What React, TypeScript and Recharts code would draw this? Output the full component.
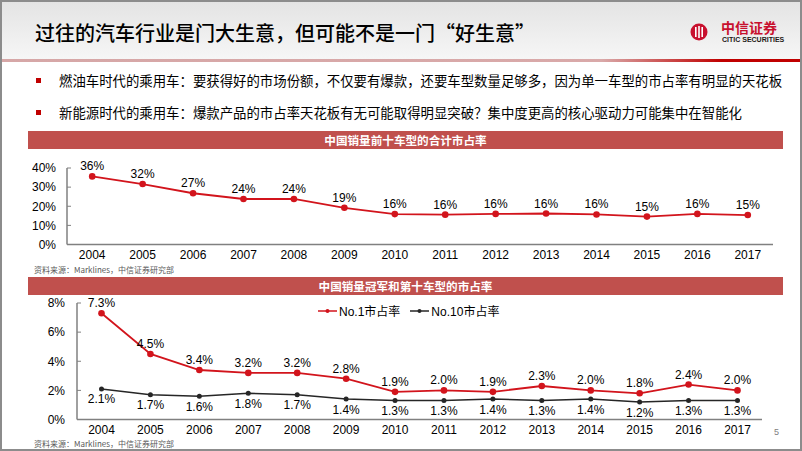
import React from 'react';
import { LineChart, Line, XAxis, YAxis, LabelList, Legend } from 'recharts';

// 年份
const years = ['2004', '2005', '2006', '2007', '2008', '2009', '2010', '2011', '2012', '2013', '2014', '2015', '2016', '2017'];

// 前十车型合计市占率 (%)
const top10Share = [35.6, 31.6, 26.8, 23.8, 23.8, 19.2, 15.9, 15.6, 16.0, 16.2, 15.7, 14.6, 16.0, 15.4];

// 冠军 / 第十车型市占率 (%)
const no1Share = [7.3, 4.5, 3.4, 3.2, 3.2, 2.8, 1.9, 2.0, 1.9, 2.3, 2.0, 1.8, 2.4, 2.0];
const no10Share = [2.1, 1.7, 1.6, 1.8, 1.7, 1.4, 1.3, 1.3, 1.4, 1.3, 1.4, 1.2, 1.3, 1.3];

const top10Ticks = [0, 10, 20, 30, 40];
const leaderTicks = [0, 2, 4, 6, 8];
const seriesNames = ['No.1市占率', 'No.10市占率'];

const bullets = [
  '燃油车时代的乘用车：要获得好的市场份额，不仅要有爆款，还要车型数量足够多，因为单一车型的市占率有明显的天花板',
  '新能源时代的乘用车：爆款产品的市占率天花板有无可能取得明显突破？集中度更高的核心驱动力可能集中在智能化',
];

const RED = '#D2141C';
const DARK = '#262626';
const AXIS = '#808080';
const BAR = '#C0504D';
const LATIN = "'Liberation Sans', Arial, 'Noto Sans CJK SC', sans-serif";
const CJK = "'Noto Sans CJK SC', 'Liberation Sans', sans-serif";

const top10Data = years.map((year, i) => ({ year, share: top10Share[i] }));
const leaderData = years.map((year, i) => ({ year, no1: no1Share[i], no10: no10Share[i] }));

const LegendContent = (props: any) => {
  const items = [...(props.payload || [])].sort(
    (a: any, b: any) => seriesNames.indexOf(a.value) - seriesNames.indexOf(b.value)
  );
  return (
    <div style={{ display: 'flex', alignItems: 'center', fontFamily: LATIN, fontSize: 12, color: '#000' }}>
      {items.map((it: any, idx: number) => (
        <div key={idx} style={{ display: 'flex', alignItems: 'center', marginRight: 10 }}>
          <svg width={19} height={8} style={{ marginRight: 2 }}>
            <line x1={0} y1={4} x2={19} y2={4} stroke={it.color} strokeWidth={1.5} />
            <circle cx={9.5} cy={4} r={2} fill={it.color} />
          </svg>
          <span>{it.value}</span>
        </div>
      ))}
    </div>
  );
};

const SectionBar = ({ top, text }: { top: number; text: string }) => (
  <div
    style={{
      position: 'absolute', left: 28, top, width: 755, height: 18, background: BAR,
      color: '#fff', fontFamily: CJK, fontWeight: 'bold', fontSize: 11.6, lineHeight: '18px', textAlign: 'center',
    }}
  >
    {text}
  </div>
);

const Source = ({ top }: { top: number }) => (
  <div style={{ position: 'absolute', left: 34, top, fontFamily: CJK, fontSize: 8, color: '#595959', lineHeight: '10px' }}>
    资料来源：Marklines，中信证券研究部
  </div>
);

export default function App() {
  return (
    <div style={{ position: 'absolute', left: 0, top: 0, width: 802, height: 451, background: '#fff', overflow: 'hidden' }}>
      {/* header */}
      <div style={{ position: 'absolute', left: 0, top: 0, width: 802, height: 59, background: 'linear-gradient(#e3e3e3, #f6f6f6)' }} />
      <div
        style={{
          position: 'absolute', left: 0, top: 59, width: 802, height: 3,
          background: 'linear-gradient(to right, #d6a7a7 0%, #d9a9a9 75%, #c00000 90%, #c00000 100%)',
        }}
      />
      <div style={{ position: 'absolute', left: 35, top: 19, fontFamily: CJK, fontSize: 20, fontWeight: 500, color: '#000', lineHeight: '28px', whiteSpace: 'nowrap' }}>
        过往的汽车行业是门大生意，但可能不是一门“好生意”
      </div>

      {/* logo */}
      <svg style={{ position: 'absolute', left: 690, top: 23 }} width={18} height={18}>
        <circle cx={9} cy={9} r={8.5} fill="#c8102e" />
        <rect x={5} y={4} width={1.6} height={10} fill="#fff" />
        <rect x={8.2} y={3} width={1.6} height={12} fill="#fff" />
        <rect x={11.4} y={4} width={1.6} height={10} fill="#fff" />
      </svg>
      <div style={{ position: 'absolute', left: 721, top: 20, fontFamily: CJK, fontWeight: 'bold', fontSize: 14, color: '#c8102e', lineHeight: '15px', whiteSpace: 'nowrap' }}>
        中信证券
      </div>
      <div style={{ position: 'absolute', left: 722, top: 36, fontFamily: LATIN, fontWeight: 'bold', fontSize: 7, color: '#231815', lineHeight: '7px', whiteSpace: 'nowrap' }}>
        CITIC SECURITIES
      </div>

      {/* bullets */}
      {bullets.map((b, i) => (
        <React.Fragment key={i}>
          <div style={{ position: 'absolute', left: 36, top: (i === 0 ? 80 : 112) - 2.5, width: 5, height: 5, background: '#c00000' }} />
          <div
            style={{
              position: 'absolute', left: 59, top: (i === 0 ? 80 : 112) - 10, fontFamily: CJK, fontSize: 13.4,
              color: '#000', lineHeight: '20px', whiteSpace: 'nowrap',
            }}
          >
            {b}
          </div>
        </React.Fragment>
      ))}

      {/* chart 1 */}
      <SectionBar top={131} text="中国销量前十车型的合计市占率" />
      <div style={{ position: 'absolute', left: 0, top: 150 }}>
        <LineChart width={802} height={120} data={top10Data} margin={{ top: 18, right: 29, left: 0, bottom: 5.5 }}>
          <XAxis
            dataKey="year"
            interval={0}
            height={20}
            padding={{ left: 25.2, right: 25.2 }}
            axisLine={{ stroke: AXIS, strokeWidth: 1.5 }}
            tickLine={false}
            tickSize={4}
            tickMargin={2}
            tick={{ fontSize: 12, fill: '#000', fontFamily: LATIN }}
          />
          <YAxis
            type="number"
            domain={[0, 40]}
            ticks={top10Ticks}
            width={67}
            interval={0}
            axisLine={{ stroke: AXIS, strokeWidth: 1.5 }}
            tickLine={{ stroke: AXIS, strokeWidth: 1 }}
            tickSize={-4}
            tickMargin={15}
            tickFormatter={(v: number) => `${v}%`}
            tick={{ fontSize: 12, fill: '#000', fontFamily: LATIN }}
          />
          <Line
            dataKey="share"
            stroke={RED}
            strokeWidth={1.8}
            dot={{ r: 3.3, fill: RED, stroke: RED, strokeWidth: 0 }}
            isAnimationActive={false}
          >
            <LabelList
              dataKey="share"
              position="top"
              offset={6}
              fontSize={12}
              fill="#000"
              fontFamily={LATIN}
              formatter={(v: any) => `${Math.round(Number(v))}%`}
            />
          </Line>
        </LineChart>
      </div>
      <Source top={265} />

      {/* chart 2 */}
      <SectionBar top={277} text="中国销量冠军和第十车型的市占率" />
      <div style={{ position: 'absolute', left: 0, top: 290 }}>
        <LineChart width={802} height={154} data={leaderData} margin={{ top: 13, right: 40, left: 0, bottom: 4.5 }}>
          <XAxis
            dataKey="year"
            interval={0}
            height={20}
            padding={{ left: 24.5, right: 24.5 }}
            axisLine={{ stroke: AXIS, strokeWidth: 1.5 }}
            tickLine={false}
            tickSize={4}
            tickMargin={2}
            tick={{ fontSize: 12, fill: '#000', fontFamily: LATIN }}
          />
          <YAxis
            type="number"
            domain={[0, 8]}
            ticks={leaderTicks}
            width={77}
            interval={0}
            axisLine={{ stroke: AXIS, strokeWidth: 1.5 }}
            tickLine={{ stroke: AXIS, strokeWidth: 1 }}
            tickSize={-4}
            tickMargin={16}
            tickFormatter={(v: number) => `${v}%`}
            tick={{ fontSize: 12, fill: '#000', fontFamily: LATIN }}
          />
          <Legend
            layout="horizontal"
            verticalAlign="middle"
            align="center"
            content={<LegendContent />}
            wrapperStyle={{ left: 318, top: 12, width: 'auto' }}
          />
          <Line
            name={seriesNames[0]}
            dataKey="no1"
            stroke={RED}
            strokeWidth={1.8}
            dot={{ r: 3.3, fill: RED, stroke: RED, strokeWidth: 0 }}
            isAnimationActive={false}
          >
            <LabelList
              dataKey="no1"
              position="top"
              offset={6}
              fontSize={12}
              fill="#000"
              fontFamily={LATIN}
              formatter={(v: any) => `${Number(v).toFixed(1)}%`}
            />
          </Line>
          <Line
            name={seriesNames[1]}
            dataKey="no10"
            stroke={DARK}
            strokeWidth={1.5}
            dot={{ r: 2.5, fill: DARK, stroke: DARK, strokeWidth: 0 }}
            isAnimationActive={false}
          >
            <LabelList
              dataKey="no10"
              position="bottom"
              offset={6}
              fontSize={12}
              fill="#000"
              fontFamily={LATIN}
              formatter={(v: any) => `${Number(v).toFixed(1)}%`}
            />
          </Line>
        </LineChart>
      </div>
      <Source top={439} />
      <div style={{ position: 'absolute', left: 774, top: 427, fontFamily: LATIN, fontSize: 9, color: '#808080' }}>5</div>

      {/* frame */}
      <div style={{ position: 'absolute', left: 0, top: 0, width: 802, height: 451, border: '2px solid #8c8c8c', boxSizing: 'border-box' }} />
    </div>
  );
}
